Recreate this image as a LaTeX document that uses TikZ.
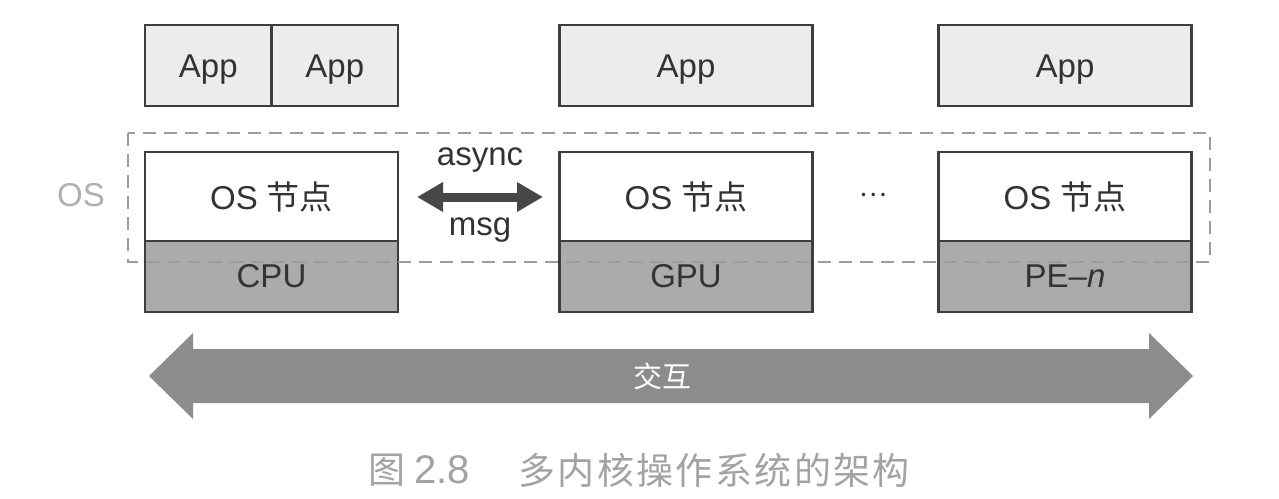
\documentclass[tikz,border=0pt]{standalone}
\usepackage{fontspec}
\setmainfont{Liberation Sans}
\newfontfamily\cjk{Noto Sans CJK SC}
\newfontfamily\cjkcap[LetterSpace=6.5]{Noto Sans CJK SC}
\usetikzlibrary{arrows.meta}
\definecolor{boxline}{HTML}{3E3E3E}
\definecolor{appfill}{HTML}{ECECEC}
\definecolor{hwfill}{HTML}{ABABAB}
\definecolor{txt}{HTML}{333333}
\definecolor{dashc}{HTML}{9C9C9C}
\definecolor{oslabel}{HTML}{B0B0B0}
\definecolor{bigarrow}{HTML}{8C8C8C}
\definecolor{capc}{HTML}{A3A3A3}
\definecolor{msgarrow}{HTML}{474747}
\newcommand\boxfont{\fontsize{33pt}{38pt}\selectfont}
\begin{document}
\begin{tikzpicture}[x=1pt,y=-1pt,
  basebox/.style={draw=boxline, line width=2.5pt, inner sep=0pt, text=txt, font=\boxfont, minimum width=253pt},
  appbox/.style={basebox, fill=appfill, minimum height=81pt, text height=23.6pt, text depth=0pt},
  osbox/.style={basebox, fill=white, minimum height=89pt},
  hwbox/.style={basebox, fill=hwfill, minimum height=71pt},
  msgarr/.style={draw=msgarrow, line width=9pt, {Triangle[length=26pt,width=28pt]}-{Triangle[length=26pt,width=28pt]}},
  lbl/.style={text=txt, font=\fontsize{33pt}{38pt}\selectfont, inner sep=0pt}
]
\useasboundingbox (0,0) rectangle (1279,498);
\fill[white] (0,0) rectangle (1279,498);

% App row
\node[appbox, minimum width=126.5pt] (app1) at (208.25,65.5) {App};
\node[appbox, minimum width=126.5pt] (app2) at (334.75,65.5) {App};
\node[appbox] (app3) at (686,65.5) {App};
\node[appbox] (app4) at (1065,65.5) {App};

% OS nodes
\node[osbox] (os1) at (271.5,196.5) {OS \cjk 节点};
\node[osbox] (os2) at (686,196.5) {OS \cjk 节点};
\node[osbox] (os3) at (1065,196.5) {OS \cjk 节点};

% Hardware
\node[hwbox] (hw1) at (271.5,276.5) {CPU};
\node[hwbox] (hw2) at (686,276.5) {GPU};
\node[hwbox] (hw3) at (1065,276.5) {PE–\textit{n}};

% dashed OS region
\draw[dashc, line width=2.5pt, dash pattern=on 13pt off 8pt] (128,133) rectangle (1210,262);
\node[text=oslabel, font=\fontsize{33pt}{38pt}\selectfont, inner sep=0pt] (oslbl) at (81,195) {OS};

% async msg
\coordinate (ml) at (417,197);
\coordinate (mr) at (543,197);
\draw[msgarr] (ml) -- (mr);
\node[lbl] (async) at (480,160) {async};
\node[lbl] (msg) at (480,230) {msg};

\node[text=txt, font=\fontsize{26pt}{28pt}\selectfont, inner sep=0pt] (dots) at (873,195) {\cjk …};

% big interaction arrow
\fill[bigarrow] (149,376) -- (193,333) -- (193,349) -- (1149,349) -- (1149,333) -- (1193,376) -- (1149,419) -- (1149,403) -- (193,403) -- (193,419) -- cycle;
\node[text=white, font=\fontsize{29pt}{32pt}\selectfont, inner sep=0pt] (inter) at (662,376) {\cjk 交互};

% caption
\node[text=capc, font=\fontsize{37pt}{40pt}\selectfont, inner sep=0pt, anchor=west] (capnum) at (368,470) {{\cjk 图}\hspace{9pt}{\fontsize{40pt}{42pt}\selectfont 2.8}};
\node[text=capc, font=\fontsize{37pt}{40pt}\selectfont, inner sep=0pt, anchor=west] (captitle) at (518,470) {\cjkcap 多内核操作系统的架构};
\end{tikzpicture}
\end{document}
